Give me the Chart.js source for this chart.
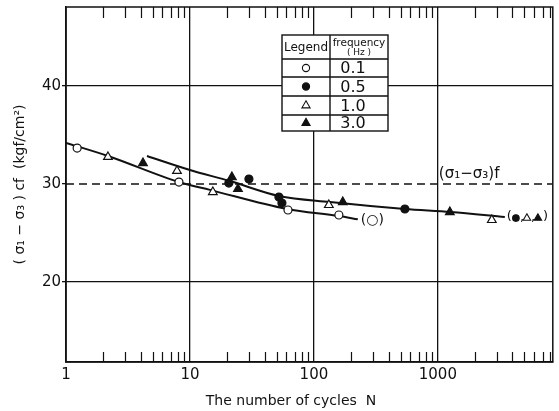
<!DOCTYPE html>
<html>
<head>
<meta charset="utf-8">
<script src="https://cdn.jsdelivr.net/npm/chart.js@4/dist/chart.umd.min.js"></script>
<style>
  body { margin: 0; background: #fff; }
  #wrap { width: 559px; height: 411px; }
</style>
</head>
<body>
<div id="wrap"><canvas id="cycles_chart" width="559" height="411"></canvas></div>
<script>
// measured points, N (cycles) and (s1-s3)cf in kgf/cm2
const cyclesF01 = [1.23, 8.15, 61.8, 159];
const stressF01 = [33.67, 30.2, 27.35, 26.84];
const cyclesF05 = [20.6, 29.9, 52.2, 55.2, 542];
const stressF05 = [30.1, 30.5, 28.67, 28.06, 27.45];
const cyclesF10 = [2.18, 7.86, 15.3, 132, 2725];
const stressF10 = [32.76, 31.33, 29.18, 27.86, 26.33];
const cyclesF30 = [4.18, 21.8, 24.4, 171, 1250];
const stressF30 = [32.14, 30.71, 29.49, 28.16, 27.14];

// fitted curves as drawn on the figure
const lowerCurveN = [1, 2.18, 8.15, 14.5, 60.6, 159, 226];
const lowerCurveS = [34.2, 32.86, 30.2, 29.4, 27.45, 26.73, 26.4];
const upperCurveN = [4.5, 10, 21, 52.2, 135, 542, 1273, 3470];
const upperCurveS = [32.86, 31.43, 30.3, 28.78, 28.16, 27.45, 27.14, 26.63];

const failureStrength = 30; // (s1-s3)f
const xMin = 1, xMax = 8460;
const yMin = 11.84, yMax = 48.06;
const xTickLabels = [1, 10, 100, 1000];
const yTickLabels = [20, 30, 40];
const freqLabels = ['0.1', '0.5', '1.0', '3.0'];

const INK = '#111';
const FONT = '"DejaVu Sans", sans-serif';

function pts(xs, ys) {
    return xs.map((x, i) => ({ x: x, y: ys[i] }));
}

function markerSet(label, xs, ys, style, filled) {
    return {
        type: 'scatter',
        label: label,
        data: pts(xs, ys),
        pointStyle: style,
        pointRadius: style == 'triangle' ? 5 : 4,
        pointBackgroundColor: filled ? INK : '#fff',
        pointBorderColor: INK,
        pointBorderWidth: 1.2,
        showLine: false,
        order: 0
    };
}

function curveSet(xs, ys) {
    return {
        type: 'line',
        data: pts(xs, ys),
        borderColor: INK,
        borderWidth: 2,
        pointRadius: 0,
        cubicInterpolationMode: 'monotone',
        fill: false,
        order: 1
    };
}

const markerStyles = [
    { style: 'circle', filled: false },
    { style: 'circle', filled: true },
    { style: 'triangle', filled: false },
    { style: 'triangle', filled: true }
];

function marker(ctx, m, x, y, r) {
    ctx.save();
    ctx.fillStyle = m.filled ? INK : '#fff';
    ctx.strokeStyle = INK;
    ctx.lineWidth = 1.1;
    if (Chart.helpers && Chart.helpers.drawPoint) {
        Chart.helpers.drawPoint(ctx, {
            pointStyle: m.style,
            radius: m.style == 'triangle' ? r * 1.3 : r,
            rotation: 0,
            borderWidth: 1.1
        }, x, y);
    }
    ctx.restore();
}

const extrasPlugin = {
    id: 'extras',
    afterDatasetsDraw(chart) {
        const ctx = chart.ctx;
        const area = chart.chartArea;
        const xs = chart.scales.x;
        const ys = chart.scales.y;
        ctx.save();

        // frame on top and right, inward minor ticks
        ctx.strokeStyle = INK;
        ctx.lineWidth = 1.5;
        ctx.strokeRect(area.left, area.top, area.right - area.left, area.bottom - area.top);
        ctx.lineWidth = 1.2;
        xs.ticks.forEach(t => {
            if (xTickLabels.includes(t.value)) return;
            const px = Math.round(xs.getPixelForValue(t.value)) + 0.5;
            ctx.beginPath();
            ctx.moveTo(px, area.bottom);
            ctx.lineTo(px, area.bottom - 10);
            ctx.moveTo(px, area.top);
            ctx.lineTo(px, area.top + 11);
            ctx.stroke();
        });

        // curve end labels
        ctx.fillStyle = INK;
        ctx.font = '14px ' + FONT;
        ctx.textBaseline = 'middle';
        ctx.textAlign = 'left';
        const lx = xs.getPixelForValue(lowerCurveN[lowerCurveN.length - 1]);
        const ly = ys.getPixelForValue(lowerCurveS[lowerCurveS.length - 1]);
        ctx.fillText('(○)', lx + 3, ly + 1);

        const ux = xs.getPixelForValue(upperCurveN[upperCurveN.length - 1]);
        const uy = ys.getPixelForValue(upperCurveS[upperCurveS.length - 1]);
        let px = ux + 2;
        ctx.font = '13px ' + FONT;
        ctx.fillText('(', px, uy);
        px += ctx.measureText('(').width + 1;
        [1, 2, 3].forEach((k, i) => {
            marker(ctx, markerStyles[k], px + 3, uy + 1, 3.3);
            px += 7;
            if (i < 2) {
                ctx.fillText(',', px, uy + 1);
                px += 4;
            }
        });
        ctx.fillText(')', px + 1, uy);

        ctx.font = '15px ' + FONT;
        ctx.textBaseline = 'alphabetic';
        ctx.fillText('(σ₁−σ₃)f', xs.getPixelForValue(1000) + 1, ys.getPixelForValue(failureStrength) - 6);

        // legend table
        const tl = 282, tr = 388, tc = 330;
        const rows = [35, 59, 77, 96, 115, 131];
        ctx.fillStyle = '#fff';
        ctx.fillRect(tl, rows[0], tr - tl, rows[rows.length - 1] - rows[0]);
        ctx.strokeStyle = INK;
        ctx.lineWidth = 1.4;
        ctx.strokeRect(tl, rows[0], tr - tl, rows[rows.length - 1] - rows[0]);
        ctx.beginPath();
        ctx.moveTo(tc, rows[0]);
        ctx.lineTo(tc, rows[rows.length - 1]);
        for (let i = 1; i < rows.length - 1; i++) {
            ctx.moveTo(tl, rows[i]);
            ctx.lineTo(tr, rows[i]);
        }
        ctx.stroke();

        ctx.fillStyle = INK;
        ctx.textAlign = 'center';
        ctx.textBaseline = 'middle';
        ctx.font = '12px ' + FONT;
        ctx.fillText('Legend', (tl + tc) / 2, 48);
        ctx.font = '10.5px ' + FONT;
        ctx.fillText('frequency', (tc + tr) / 2, 43);
        ctx.font = '9px ' + FONT;
        ctx.fillText('( Hz )', (tc + tr) / 2, 53);

        ctx.font = '16px ' + FONT;
        freqLabels.forEach((f, i) => {
            const cy = (rows[i + 1] + rows[i + 2]) / 2;
            ctx.fillStyle = INK;
            ctx.fillText(f, (tc + tr) / 2 - 6, cy + 1);
            marker(ctx, markerStyles[i], (tl + tc) / 2, cy, 3.6);
        });

        // axis titles
        ctx.fillStyle = INK;
        ctx.font = '14px ' + FONT;
        ctx.textAlign = 'center';
        ctx.textBaseline = 'middle';
        ctx.fillText('The number of cycles  N', 291, 401);
        ctx.translate(20, (area.top + area.bottom) / 2);
        ctx.rotate(-Math.PI / 2);
        ctx.fillText('( σ₁ − σ₃ ) cf  (kgf/cm²)', 0, 0);

        ctx.restore();
    }
};

const cyclesChart = new Chart(document.getElementById('cycles_chart'), {
    data: {
        datasets: [
            markerSet('0.1', cyclesF01, stressF01, 'circle', false),
            markerSet('0.5', cyclesF05, stressF05, 'circle', true),
            markerSet('1.0', cyclesF10, stressF10, 'triangle', false),
            markerSet('3.0', cyclesF30, stressF30, 'triangle', true),
            curveSet(lowerCurveN, lowerCurveS),
            curveSet(upperCurveN, upperCurveS),
            {
                type: 'line',
                data: [{ x: xMin, y: failureStrength }, { x: xMax, y: failureStrength }],
                borderColor: INK,
                borderWidth: 1.3,
                borderDash: [8, 5],
                pointRadius: 0,
                order: 2
            }
        ]
    },
    options: {
        responsive: false,
        animation: false,
        layout: { padding: { top: 7, right: 6, left: 0, bottom: 0 } },
        scales: {
            x: {
                type: 'logarithmic',
                min: xMin,
                max: xMax,
                afterBuildTicks: (scale) => {
                    const vals = [];
                    for (let d = 1; d <= 1000; d *= 10) {
                        for (let k = 1; k <= 9; k++) {
                            if (k * d <= xMax) vals.push(k * d);
                        }
                    }
                    scale.ticks = vals.map(v => ({ value: v }));
                },
                afterFit: (scale) => {
                    scale.height = 49;
                    scale.paddingLeft = 0;
                    scale.paddingRight = 0;
                },
                ticks: {
                    autoSkip: false,
                    maxRotation: 0,
                    padding: 4,
                    color: INK,
                    font: { family: FONT, size: 15 },
                    callback: (v) => xTickLabels.includes(v) ? String(v) : ''
                },
                grid: {
                    drawTicks: false,
                    lineWidth: 1.3,
                    color: (c) => (c.tick && [10, 100, 1000].includes(c.tick.value)) ? INK : 'rgba(0,0,0,0)'
                },
                border: { color: INK, width: 1.5 }
            },
            y: {
                type: 'linear',
                min: yMin,
                max: yMax,
                afterBuildTicks: (scale) => {
                    scale.ticks = yTickLabels.map(v => ({ value: v }));
                },
                afterFit: (scale) => {
                    scale.width = 66;
                    scale.paddingTop = 0;
                    scale.paddingBottom = 0;
                },
                ticks: {
                    padding: 1,
                    color: INK,
                    font: { family: FONT, size: 15 },
                    callback: (v) => String(v)
                },
                grid: {
                    drawTicks: true,
                    tickLength: 4,
                    lineWidth: 1.3,
                    color: (c) => (c.tick && c.tick.value == failureStrength) ? 'rgba(0,0,0,0)' : INK,
                    tickColor: INK
                },
                border: { color: INK, width: 1.5 }
            }
        },
        plugins: {
            legend: { display: false },
            tooltip: { enabled: false }
        }
    },
    plugins: [extrasPlugin]
});
</script>
</body>
</html>
